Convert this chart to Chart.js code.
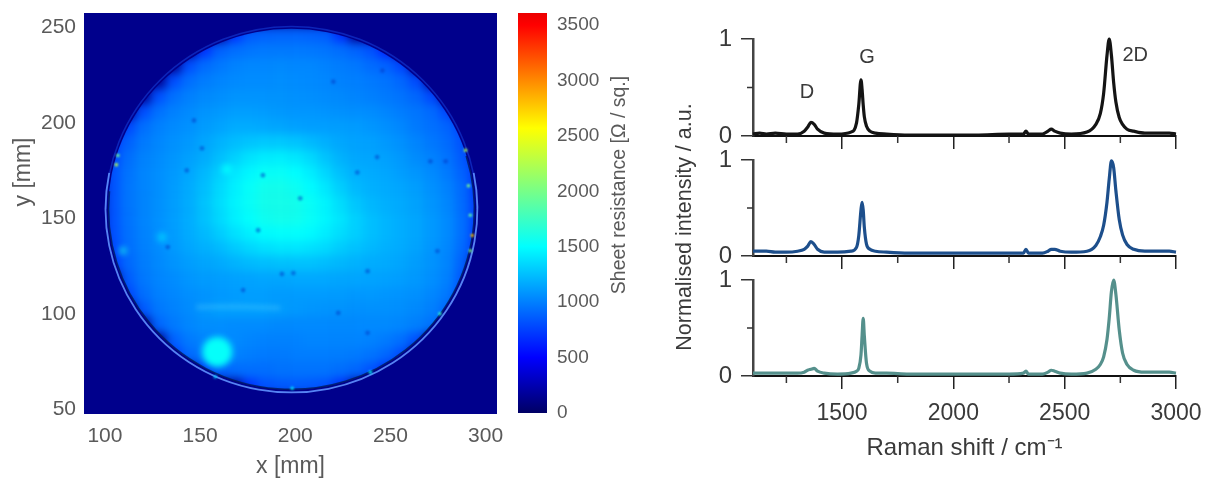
<!DOCTYPE html>
<html lang="en">
<head>
<meta charset="UTF-8">
<title>Sheet resistance map and Raman spectra</title>
<script src="https://cdn.jsdelivr.net/npm/chart.js"></script>
<style>
  body { margin: 0; background: #fff; }
  #wrap { position: relative; width: 1206px; height: 480px; overflow: hidden; }
  canvas { position: absolute; left: 0; top: 0; filter: blur(0.5px); }
</style>
</head>
<body>
<div id="wrap">
  <canvas id="map" width="1206" height="480"></canvas>
  <canvas id="bar" width="1206" height="480"></canvas>
  <canvas id="spec1" width="1206" height="480"></canvas>
  <canvas id="spec2" width="1206" height="480"></canvas>
  <canvas id="spec3" width="1206" height="480"></canvas>
</div>
<script>
// sheet resistance map on an 8 mm grid
const gridX = [104,112,120,128,136,144,152,160,168,176,184,192,200,208,216,224,232,240,248,256,264,272,280,288,296];
const gridY = [246,238,230,222,214,206,198,190,182,174,166,158,150,142,134,126,118,110,102,94,86,78,70,62];
const sheetRes = [
  [130,130,130,130,130,130,130,130,700,860,890,900,900,890,870,700,130,130,130,130,130,130,130,130,130],
  [130,130,130,130,130,130,700,880,930,960,980,980,980,970,960,930,890,820,650,130,130,130,130,130,130],
  [130,130,130,130,130,800,920,970,1010,1030,1030,1040,1030,1030,1010,990,970,920,880,770,130,130,130,130,130],
  [130,130,130,130,800,930,990,1020,1040,1050,1050,1060,1050,1040,1030,1010,1000,980,950,900,790,130,130,130,130],
  [130,130,130,810,940,1000,1040,1060,1080,1080,1080,1080,1070,1060,1050,1040,1020,1000,980,950,900,780,130,130,130],
  [130,130,800,940,1000,1040,1080,1100,1120,1120,1110,1100,1090,1090,1080,1070,1060,1050,1020,990,960,910,780,130,130],
  [130,780,930,1000,1040,1070,1110,1140,1170,1170,1160,1150,1130,1120,1120,1120,1110,1090,1060,1030,980,940,890,760,130],
  [720,880,980,1030,1070,1100,1150,1200,1240,1270,1290,1290,1270,1230,1190,1160,1140,1130,1100,1070,1020,970,920,820,130],
  [780,930,1010,1050,1090,1130,1180,1250,1320,1390,1430,1440,1410,1350,1270,1200,1160,1150,1130,1100,1050,1010,950,850,650],
  [820,950,1020,1060,1100,1150,1220,1310,1400,1470,1520,1530,1500,1430,1340,1250,1190,1170,1150,1120,1090,1040,980,880,700],
  [820,960,1020,1060,1110,1170,1250,1350,1440,1520,1570,1580,1550,1490,1410,1310,1230,1190,1170,1150,1120,1070,1010,910,720],
  [830,960,1020,1070,1120,1180,1270,1370,1460,1530,1580,1590,1580,1530,1460,1370,1280,1220,1190,1170,1140,1090,1030,920,730],
  [820,950,1020,1070,1120,1180,1260,1350,1440,1510,1560,1580,1570,1530,1470,1400,1320,1250,1210,1180,1150,1100,1040,930,730],
  [810,940,1010,1060,1110,1170,1230,1300,1380,1440,1490,1510,1510,1480,1430,1370,1310,1250,1210,1180,1150,1100,1040,930,720],
  [780,930,1000,1050,1100,1150,1190,1230,1290,1340,1380,1400,1400,1380,1350,1300,1260,1220,1190,1170,1140,1090,1030,910,680],
  [720,910,990,1040,1080,1120,1150,1170,1200,1230,1250,1260,1260,1260,1240,1220,1200,1180,1170,1150,1120,1080,1020,880,130],
  [130,860,970,1020,1050,1090,1110,1120,1130,1140,1150,1150,1160,1160,1160,1150,1150,1140,1130,1120,1100,1060,1000,840,130],
  [130,780,930,1000,1030,1060,1080,1100,1110,1120,1120,1110,1110,1110,1110,1110,1100,1100,1090,1080,1070,1030,970,780,130],
  [130,130,850,970,1010,1050,1100,1130,1130,1130,1130,1120,1100,1090,1080,1080,1070,1070,1070,1060,1040,1000,910,130,130],
  [130,130,130,900,980,1030,1060,1060,1050,1050,1050,1040,1040,1040,1040,1040,1040,1040,1040,1030,1000,950,800,130,130],
  [130,130,130,130,880,980,1020,1050,1040,1020,1010,1010,1010,1020,1020,1020,1020,1010,980,930,810,130,130,130,130],
  [130,130,130,130,720,910,980,1040,1010,990,980,980,990,990,990,990,980,950,900,790,130,130,130,130,130],
  [130,130,130,130,130,130,740,880,920,930,930,950,950,950,950,930,900,820,660,130,130,130,130,130,130],
  [130,130,130,130,130,130,130,130,130,700,820,850,860,850,820,690,130,130,130,130,130,130,130,130,130]
];
const backgroundRes = 130;

// wafer outline in mm
const waferX = 198, waferY = 154.7, waferRx = 96.5, waferRy = 94.7;

// small features on the wafer
const blobX = [159, 164, 130, 109.5];
const blobY = [80, 175.6, 140, 133];
const blobRes = [1520, 1500, 1300, 1600];
const blobSize = [15, 4.5, 4.5, 3];
const darkX = [146.8,151,143,183,245.8,220,279,232.6,243,202.6,271,133,193,199,172.6,180.5,274.7,238,222.6,238];
const darkY = [201.2,186.6,175,172.5,227.3,221.5,179.8,174,182,160.4,179.8,134.9,120.8,121.3,112.4,143.7,132.8,122.3,100.4,90];
const fleckX = [106.8,106,289.5,291,292,293,292,276,239.5,198.4,158];
const fleckY = [182.9,178,185.6,167,151.6,141,133,100,69.4,61,67];
const fleckRes = [2000,2300,2200,2000,1900,2800,2000,1700,1500,1400,1300];
const bandX = [148, 170, 192];
const bandY = [103.5, 103.8, 103];

const mapXTicks = [100,150,200,250,300];
const mapYTicks = [50,100,150,200,250];
const barTicks = [0,500,1000,1500,2000,2500,3000,3500];
const barTop = 3608;

// Raman spectra
const shift = [1100,1130,1160,1200,1250,1300,1330,1345,1360,1375,1390,1420,1480,1540,1565,1575,1585,1590,1595,1600,1610,1625,1650,1700,1800,1950,2100,2250,2315,2326,2337,2400,2425,2440,2455,2480,2530,2600,2640,2660,2675,2690,2700,2710,2720,2730,2745,2760,2780,2810,2860,2920,2970,3000];
const spectrumTop = [.02,.03,.02,.03,.02,.02,.05,.09,.14,.12,.07,.03,.02,.04,.135,.32,.58,.48,.32,.2,.1,.05,.03,.02,.01,.01,.01,.02,.02,.05,.02,.02,.05,.07,.05,.03,.02,.04,.12,.23,.44,.83,1,.83,.55,.35,.19,.12,.07,.05,.03,.03,.03,.02];
const spectrumMid = [.05,.05,.05,.04,.04,.05,.07,.10,.15,.12,.07,.04,.04,.05,.09,.21,.48,.56,.48,.3,.12,.07,.05,.04,.03,.03,.03,.03,.03,.07,.03,.03,.05,.07,.07,.05,.04,.05,.11,.2,.32,.56,.8,.99,.92,.68,.38,.22,.12,.07,.05,.05,.05,.04];
const spectrumLow = [.03,.03,.03,.03,.03,.03,.04,.06,.07,.08,.05,.03,.02,.03,.05,.08,.22,.42,.6,.42,.13,.05,.03,.03,.02,.02,.02,.02,.03,.05,.02,.02,.04,.06,.05,.03,.02,.03,.07,.12,.2,.38,.6,.88,1,.85,.48,.24,.12,.06,.04,.04,.04,.03];
const shiftMajor = [1500,2000,2500,3000];
const shiftMinor = [1250,1750,2250,2750];
const intensityMajor = [0,1];
const intensityMinor = [0.5];
const peakNames = ['D','G','2D'];
const peakX = [1342,1612,2817];
const peakY = [0.45,0.81,0.83];

const GREY = '#5a5a5a';
const DARK = '#3a3a3a';
const FONT = '"Liberation Sans", Arial, sans-serif';
const MAP_TOP = 13; // page row where the navy map starts

// colour map of the bar
const stops = [[0,0,0,100],[500,0,0,255],[1500,0,255,255],[2570,255,255,0],[3500,255,0,0],[3608,235,0,0]];
function resColor(v, a) {
  let i = 0;
  while (i < stops.length - 2 && v > stops[i + 1][0]) i++;
  const s = stops[i], e = stops[i + 1];
  const t = Math.max(0, Math.min(1, (v - s[0]) / (e[0] - s[0])));
  const c = [1,2,3].map(k => Math.round(s[k] + (e[k] - s[k]) * t));
  return 'rgba(' + c[0] + ',' + c[1] + ',' + c[2] + ',' + (a === undefined ? 1 : a) + ')';
}

function rotatedText(ctx, text, x, y, font, color) {
  ctx.save();
  ctx.translate(x, y);
  ctx.rotate(-Math.PI / 2);
  ctx.font = font;
  ctx.fillStyle = color;
  ctx.textAlign = 'center';
  ctx.textBaseline = 'middle';
  ctx.fillText(text, 0, 0);
  ctx.restore();
}

function setTicks(values) {
  return function (scale) { scale.ticks = values.map(v => ({ value: v })); };
}
const plainTick = v => String(v);

// fixed axis size, and no extra margin for the outer tick labels
function fixAxis(w, h) {
  return function (s) {
    if (w !== null) s.width = w;
    if (h !== null) s.height = h;
    s.paddingTop = s.paddingBottom = s.paddingLeft = s.paddingRight = 0;
  };
}

// plot box in page pixels -> padding for a full-page canvas
function box(l, t, r, b, axisW, axisH) {
  return { left: l - axisW, top: t, right: 1206 - r, bottom: 480 - b - axisH };
}

// ---- wafer map ----
const cells = [];
gridY.forEach((y, r) => gridX.forEach((x, c) => {
  if (sheetRes[r][c] > backgroundRes) cells.push({ x: x, y: y, v: sheetRes[r][c] });
}));

function waferPath(ctx, xs, ys, grow, a0, a1) {
  const cx = xs.getPixelForValue(waferX), cy = ys.getPixelForValue(waferY);
  const rx = Math.abs(xs.getPixelForValue(waferX + waferRx + grow) - cx);
  const ry = Math.abs(ys.getPixelForValue(waferY + waferRy + grow) - cy);
  ctx.beginPath();
  ctx.ellipse(cx, cy, rx, ry, 0, a0, a1);
}

const waferPlugin = {
  id: 'wafer',
  beforeDatasetsDraw(chart) {
    const a = chart.chartArea, ctx = chart.ctx;
    ctx.save();
    ctx.fillStyle = resColor(backgroundRes);
    ctx.fillRect(a.left, MAP_TOP, a.right - a.left, a.bottom - MAP_TOP);
    ctx.restore();
  },
  beforeDatasetDraw(chart, args) {
    const ds = chart.data.datasets[args.index], ctx = chart.ctx;
    ctx.save();
    if (ds.blurPx) ctx.filter = 'blur(' + ds.blurPx + 'px)';
  },
  afterDatasetDraw(chart, args) {
    const ctx = chart.ctx, xs = chart.scales.x, ys = chart.scales.y, a = chart.chartArea;
    ctx.restore();
    if (args.index !== 0) return;
    // soften the grid cells in place, inside the wafer only
    const copy = document.createElement('canvas');
    copy.width = chart.width;
    copy.height = chart.height;
    copy.getContext('2d').drawImage(chart.canvas, 0, 0);
    ctx.save();
    ctx.fillStyle = resColor(backgroundRes);
    ctx.fillRect(a.left, MAP_TOP, a.right - a.left, a.bottom - MAP_TOP);
    waferPath(ctx, xs, ys, -0.2, 0, Math.PI * 2);
    ctx.clip();
    ctx.filter = 'blur(5px)';
    ctx.drawImage(copy, 0, 0);
    ctx.restore();

    ctx.save();
    ctx.filter = 'blur(0.6px)';
    // pale rim outside the wafer
    ctx.lineWidth = 1.6;
    ctx.strokeStyle = 'rgba(20,60,215,0.6)';
    waferPath(ctx, xs, ys, 1, Math.PI, Math.PI * 2);
    ctx.stroke();
    ctx.lineWidth = 1.8;
    ctx.strokeStyle = 'rgba(95,145,255,0.9)';
    waferPath(ctx, xs, ys, 1.2, -0.2, Math.PI + 0.2);
    ctx.stroke();
    // dark line just inside
    ctx.lineWidth = 1.5;
    ctx.strokeStyle = 'rgba(0,25,90,0.8)';
    waferPath(ctx, xs, ys, -0.4, -0.3, Math.PI + 0.1);
    ctx.stroke();
    ctx.restore();
  }
};

// the library draws high order first, so the cells go under the small features
new Chart(document.getElementById('map'), {
  data: {
    datasets: [
      { type: 'scatter', order: 9, data: cells, pointStyle: 'rect', pointRadius: 11, pointBorderWidth: 0,
        pointBackgroundColor: c => resColor(c.raw.v) },
      { type: 'scatter', order: 4, showLine: true, data: bandX.map((x, i) => ({ x: x, y: bandY[i] })),
        borderColor: 'rgba(110,215,255,0.3)', borderWidth: 4, pointRadius: 0, blurPx: 2.5 },
      { type: 'scatter', order: 3, data: blobX.map((x, i) => ({ x: x, y: blobY[i], v: blobRes[i] })),
        pointRadius: blobSize, pointBorderWidth: 0, pointBackgroundColor: c => resColor(c.raw.v), blurPx: 3 },
      { type: 'scatter', order: 2, data: darkX.map((x, i) => ({ x: x, y: darkY[i] })),
        pointRadius: 2.4, pointBorderWidth: 0, pointBackgroundColor: 'rgba(0,60,200,0.5)', blurPx: 1.2 },
      { type: 'scatter', order: 1, data: fleckX.map((x, i) => ({ x: x, y: fleckY[i], v: fleckRes[i] })),
        pointRadius: 1.7, pointBorderWidth: 0, pointBackgroundColor: c => resColor(c.raw.v), blurPx: 0.8 }
    ]
  },
  options: {
    responsive: false, animation: false,
    layout: { padding: box(84, 11, 497, 414, 84, 66) },
    plugins: { legend: { display: false }, tooltip: { enabled: false } },
    scales: {
      x: {
        type: 'linear', min: 89, max: 306, afterBuildTicks: setTicks(mapXTicks),
        afterFit: fixAxis(null, 66),
        grid: { display: false }, border: { display: false },
        ticks: { color: GREY, padding: 2, maxRotation: 0, autoSkip: false, callback: plainTick, font: { family: FONT, size: 21 } },
        title: { display: true, text: 'x [mm]', color: GREY, padding: 0, font: { family: FONT, size: 23 } }
      },
      y: {
        type: 'linear', min: 47.5, max: 256.4, afterBuildTicks: setTicks(mapYTicks),
        afterFit: fixAxis(84, null),
        grid: { display: false }, border: { display: false },
        ticks: { color: GREY, padding: 0, autoSkip: false, callback: plainTick, font: { family: FONT, size: 21 } }
      }
    }
  },
  plugins: [waferPlugin, {
    id: 'mapTitle',
    afterDraw(chart) { rotatedText(chart.ctx, 'y [mm]', 24, 172, '23px ' + FONT, GREY); }
  }]
});

// ---- colour bar ----
new Chart(document.getElementById('bar'), {
  type: 'bar',
  data: {
    labels: ['Sheet resistance'],
    datasets: [{
      data: [barTop], barPercentage: 1, categoryPercentage: 1,
      backgroundColor(c) {
        const s = c.chart.scales.y;
        const y0 = s.getPixelForValue(0), y1 = s.getPixelForValue(barTop);
        if (!isFinite(y0) || !isFinite(y1)) return resColor(500);
        const g = c.chart.ctx.createLinearGradient(0, y0, 0, y1);
        stops.forEach(st => g.addColorStop(st[0] / barTop, resColor(st[0])));
        return g;
      }
    }]
  },
  options: {
    responsive: false, animation: false,
    layout: { padding: { left: 518, top: 13, right: 1206 - 547 - 60, bottom: 480 - 413 } },
    plugins: { legend: { display: false }, tooltip: { enabled: false } },
    scales: {
      x: { display: false },
      y: {
        position: 'right', min: 0, max: barTop, afterBuildTicks: setTicks(barTicks),
        afterFit: fixAxis(60, null),
        grid: { display: false }, border: { display: false },
        ticks: { color: GREY, padding: 2, autoSkip: false, callback: plainTick, font: { family: FONT, size: 19 } }
      }
    }
  },
  plugins: [{
    id: 'barTitle',
    afterDraw(chart) { rotatedText(chart.ctx, 'Sheet resistance [Ω / sq.]', 620, 185, '19.5px ' + FONT, GREY); }
  }]
});

// ---- spectra ----
// minor ticks and peak names go through the chart's scales
const specExtras = {
  id: 'specExtras',
  afterDraw(chart) {
    const ctx = chart.ctx, xs = chart.scales.x, ys = chart.scales.y;
    ctx.save();
    ctx.strokeStyle = '#333';
    ctx.lineWidth = 1.5;
    ctx.beginPath();
    shiftMinor.forEach(v => {
      const p = xs.getPixelForValue(v);
      ctx.moveTo(p, ys.bottom);
      ctx.lineTo(p, ys.bottom + 7);
    });
    intensityMinor.forEach(v => {
      const p = ys.getPixelForValue(v);
      ctx.moveTo(xs.left, p);
      ctx.lineTo(xs.left - 6, p);
    });
    ctx.stroke();
    const o = chart.options.plugins.specExtras;
    if (o.peaks) {
      ctx.fillStyle = DARK;
      ctx.font = '20px ' + FONT;
      ctx.textAlign = 'center';
      ctx.textBaseline = 'middle';
      peakNames.forEach((n, i) => ctx.fillText(n, xs.getPixelForValue(peakX[i]), ys.getPixelForValue(peakY[i])));
    }
    if (o.yTitle) rotatedText(ctx, 'Normalised intensity / a.u.', 685, 227, '21.5px ' + FONT, DARK);
    ctx.restore();
  }
};

function spectrum(id, values, color, top, bottom, last) {
  const axisH = last ? 90 : 14;
  new Chart(document.getElementById(id), {
    type: 'scatter',
    data: {
      datasets: [{
        data: shift.map((x, i) => ({ x: x, y: values[i] })),
        showLine: true, borderColor: color, borderWidth: 3.2, pointRadius: 0,
        cubicInterpolationMode: 'monotone', clip: false
      }]
    },
    options: {
      responsive: false, animation: false,
      layout: { padding: box(753, top, 1176, bottom, 40, axisH) },
      plugins: {
        legend: { display: false }, tooltip: { enabled: false },
        specExtras: { peaks: id === 'spec1', yTitle: id === 'spec2' }
      },
      scales: {
        x: {
          type: 'linear', min: 1100, max: 3000, afterBuildTicks: setTicks(shiftMajor),
          afterFit: fixAxis(null, axisH),
          grid: { drawOnChartArea: false, tickLength: 13, color: '#222', lineWidth: 1.5 },
          border: { color: '#111', width: 2 },
          ticks: { display: !!last, color: DARK, padding: 11, maxRotation: 0, autoSkip: false, callback: plainTick, font: { family: FONT, size: 23 } },
          title: { display: !!last, text: 'Raman shift / cm⁻¹', color: DARK, padding: { top: 8, bottom: 3 }, font: { family: FONT, size: 24 } }
        },
        y: {
          type: 'linear', min: 0, max: 1, afterBuildTicks: setTicks(intensityMajor),
          afterFit: fixAxis(40, null),
          grid: { drawOnChartArea: false, tickLength: 12, color: '#333', lineWidth: 1.5 },
          border: { color: '#444', width: 2.5 },
          ticks: { color: DARK, padding: 9, autoSkip: false, callback: plainTick, font: { family: FONT, size: 24 } }
        }
      }
    },
    plugins: [specExtras]
  });
}

spectrum('spec1', spectrumTop, '#141414', 39, 136, false);
spectrum('spec2', spectrumMid, '#1d4f8c', 160, 256, false);
spectrum('spec3', spectrumLow, '#55908c', 280, 376, true);
</script>
</body>
</html>
